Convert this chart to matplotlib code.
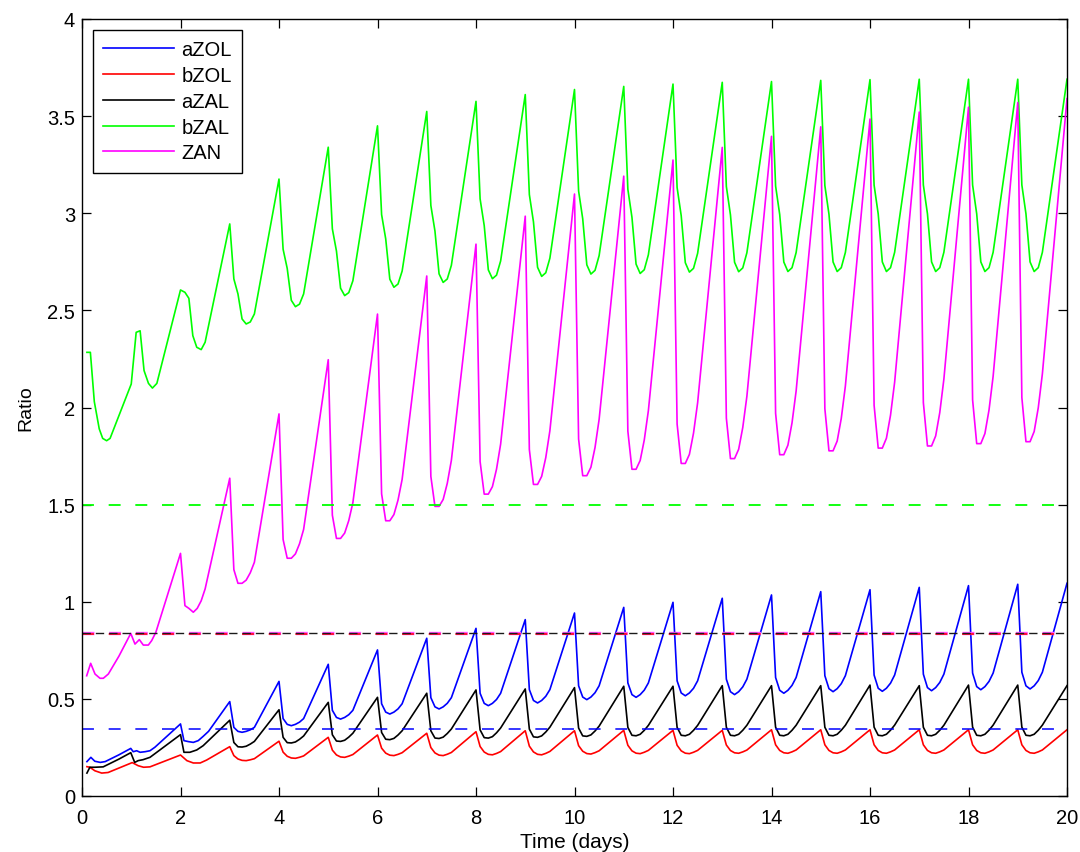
import numpy as np
import matplotlib
matplotlib.use('Agg')
import matplotlib.pyplot as plt

plt.rcParams['font.family'] = ['Liberation Sans', 'DejaVu Sans']
plt.rcParams['lines.scale_dashes'] = False

# days 3..20 each have a dosing peak; before day 3 the curves are given point by point
peak_days = np.arange(3, 21)
# sample times after each peak (days) for the drop and the start of the rise
step_offsets = np.array([1, 2, 3, 4, 5, 6]) / 12.0

# ---- aZOL (blue) ----
azol_early_t = [0.1, 0.18, 0.26, 0.37, 0.47, 0.75, 0.99, 1.04, 1.11, 1.18, 1.28, 1.38, 1.48,
                2.0, 2.07, 2.16, 2.26, 2.36, 2.46, 2.57]
azol_early_v = [0.177, 0.199, 0.179, 0.173, 0.177, 0.212, 0.245, 0.228, 0.233, 0.225, 0.228, 0.233, 0.251,
                0.371, 0.285, 0.280, 0.276, 0.285, 0.307, 0.333]
azol_peak = [0.486, 0.590, 0.678, 0.752, 0.812, 0.863, 0.908, 0.942, 0.971, 0.997, 1.018, 1.035,
             1.052, 1.062, 1.074, 1.083, 1.090, 1.095]
azol_trough = [0.328, 0.362, 0.396, 0.422, 0.448, 0.465, 0.479, 0.496, 0.508, 0.516, 0.522, 0.529,
               0.537, 0.539, 0.542, 0.547, 0.551]
azol_shape = [0.16, 0.03, 0.0, 0.03, 0.08, 0.16]

# ---- bZOL (red) ----
bzol_early_t = [0.1, 0.16, 0.26, 0.40, 0.53, 1.02, 1.14, 1.25, 1.38, 2.0, 2.13, 2.26, 2.40, 2.53]
bzol_early_v = [0.151, 0.148, 0.130, 0.118, 0.121, 0.172, 0.156, 0.148, 0.150, 0.211, 0.182, 0.170,
                0.170, 0.185]
bzol_peak = [0.254, 0.282, 0.302, 0.314, 0.323, 0.331, 0.336, 0.336, 0.338, 0.338, 0.338, 0.341,
             0.341, 0.341, 0.341, 0.341, 0.341, 0.341]
bzol_trough = [0.182, 0.194, 0.199, 0.208, 0.208, 0.212, 0.212, 0.216, 0.218, 0.218, 0.220, 0.220,
               0.220, 0.220, 0.220, 0.220, 0.220]
bzol_shape = [0.36, 0.12, 0.02, 0.0, 0.06, 0.14]

# ---- aZAL (black) ----
azal_early_t = [0.1, 0.16, 0.26, 0.43, 0.75, 0.99, 1.07, 1.14, 1.24, 1.38, 2.0, 2.07, 2.19, 2.33, 2.46]
azal_early_v = [0.118, 0.148, 0.148, 0.150, 0.190, 0.223, 0.173, 0.182, 0.187, 0.199, 0.316, 0.225,
                0.225, 0.237, 0.259]
azal_peak = [0.390, 0.444, 0.482, 0.508, 0.529, 0.546, 0.551, 0.558, 0.565, 0.565, 0.568, 0.568,
             0.568, 0.571, 0.568, 0.571, 0.571, 0.568]
azal_trough = [0.252, 0.273, 0.281, 0.290, 0.296, 0.298, 0.302, 0.307, 0.310, 0.310, 0.310, 0.310,
               0.310, 0.310, 0.310, 0.310, 0.310]
azal_shape = [0.17, 0.01, 0.0, 0.03, 0.11, 0.21]

# ---- bZAL (green) ----
bzal_early_t = [0.1, 0.17, 0.25, 0.35, 0.42, 0.5, 0.57, 1.0, 1.1, 1.18, 1.26, 1.35, 1.43, 1.52,
                2.0, 2.09, 2.17, 2.25, 2.33, 2.42, 2.5]
bzal_early_v = [2.284, 2.284, 2.03, 1.89, 1.841, 1.829, 1.841, 2.121, 2.387, 2.395, 2.19, 2.124, 2.10,
                2.124, 2.605, 2.593, 2.562, 2.37, 2.31, 2.298, 2.336]
bzal_peak = [2.945, 3.176, 3.340, 3.450, 3.524, 3.576, 3.611, 3.637, 3.653, 3.665, 3.674, 3.678,
             3.684, 3.688, 3.690, 3.690, 3.690, 3.690]
bzal_trough = [2.430, 2.519, 2.576, 2.619, 2.644, 2.663, 2.675, 2.687, 2.690, 2.697, 2.699, 2.700,
               2.700, 2.700, 2.700, 2.700, 2.700]
bzal_shape = [0.45, 0.30, 0.05, 0.0, 0.02, 0.10]

# ---- ZAN (magenta) ----
zan_early_t = [0.095, 0.176, 0.264, 0.365, 0.433, 0.535, 0.75, 0.99, 1.076, 1.164, 1.245, 1.347, 1.415,
               1.5, 2.0, 2.09, 2.17, 2.26, 2.34, 2.42, 2.5]
zan_early_v = [0.619, 0.683, 0.628, 0.606, 0.606, 0.628, 0.72, 0.837, 0.782, 0.805, 0.777, 0.777, 0.80,
               0.843, 1.249, 0.98, 0.966, 0.946, 0.966, 1.005, 1.066]
zan_peak = [1.636, 1.967, 2.246, 2.481, 2.677, 2.841, 2.985, 3.099, 3.191, 3.274, 3.339, 3.396,
            3.445, 3.485, 3.521, 3.546, 3.570, 3.590]
zan_trough = [1.095, 1.224, 1.326, 1.417, 1.491, 1.554, 1.604, 1.649, 1.682, 1.712, 1.737, 1.757,
              1.777, 1.791, 1.802, 1.814, 1.824]
zan_shape = [0.13, 0.0, 0.0, 0.03, 0.10, 0.20]

# reference levels (dashed)
bzal_ref = 1.5
azol_ref = 0.345
zan_ref = 0.841
bzol_ref = 0.832
azal_ref = 0.841


def build(early_t, early_v, peaks, troughs, shape):
    t = list(early_t) + [peak_days[0]]
    v = list(early_v) + [peaks[0]]
    for i in range(len(troughs)):
        k = peak_days[i]
        for off, f in zip(step_offsets, shape):
            t.append(k + off)
            v.append(troughs[i] + f * (peaks[i] - troughs[i]))
        t.append(peak_days[i + 1])
        v.append(peaks[i + 1])
    return np.array(t), np.array(v)


fig = plt.figure(figsize=(10.8, 8.53), dpi=100)
ax = fig.add_axes([82 / 1080, 56 / 853, 985 / 1080, 777 / 853])

lw = 1.2
series = [
    ('aZOL', (0, 0, 1), azol_early_t, azol_early_v, azol_peak, azol_trough, azol_shape),
    ('bZOL', (1, 0, 0), bzol_early_t, bzol_early_v, bzol_peak, bzol_trough, bzol_shape),
    ('aZAL', (0, 0, 0), azal_early_t, azal_early_v, azal_peak, azal_trough, azal_shape),
    ('bZAL', (0, 1, 0), bzal_early_t, bzal_early_v, bzal_peak, bzal_trough, bzal_shape),
    ('ZAN', (1, 0, 1), zan_early_t, zan_early_v, zan_peak, zan_trough, zan_shape),
]
for name, col, et, ev, pk, tr, sh in series:
    t, v = build(et, ev, pk, tr, sh)
    ax.plot(t, v, color=col, lw=lw, label=name)

# dashed reference lines
long_dash = (0, (8.6, 10.6))
ax.plot([0, 20], [bzal_ref, bzal_ref], color=(0, 1, 0), lw=1.3, linestyle=long_dash)
ax.plot([0, 20], [azol_ref, azol_ref], color=(0, 0, 1), lw=1.1, linestyle=long_dash)
ax.plot([0, 20], [zan_ref, zan_ref], color=(1, 0.3, 1), lw=2.4, linestyle=long_dash)
ax.plot([0, 20], [bzol_ref, bzol_ref], color=(1, 0, 0), lw=1.1, linestyle=long_dash)
ax.plot([0, 20], [azal_ref, azal_ref], color=(0.1, 0.1, 0.1), lw=1.0, linestyle=(0, (6.0, 3.6)))

ax.set_xlim(0, 20)
ax.set_ylim(0, 4)
ax.set_xticks(np.arange(0, 21, 2))
ax.set_yticks(np.arange(0, 4.01, 0.5))
ax.set_yticklabels(['0', '0.5', '1', '1.5', '2', '2.5', '3', '3.5', '4'])
ax.tick_params(direction='in', top=True, right=True, length=6.5, width=0.9,
               labelsize=14.5, colors='black')
ax.tick_params(axis='y', pad=5)
ax.tick_params(axis='x', pad=9)
for s in ax.spines.values():
    s.set_linewidth(1.0)

ax.set_xlabel('Time (days)', fontsize=15, labelpad=3)
ax.set_ylabel('Ratio', fontsize=14, labelpad=9)

leg = ax.legend(loc='upper left', bbox_to_anchor=(11 / 985, 1 - 11 / 777), borderaxespad=0,
                fontsize=14.5, handlelength=3.5, handletextpad=0.4, labelspacing=0.34,
                borderpad=0.5, fancybox=False, edgecolor='black', framealpha=1)
leg.get_frame().set_linewidth(1.0)

plt.savefig('out.png', dpi=100)
plt.close()
